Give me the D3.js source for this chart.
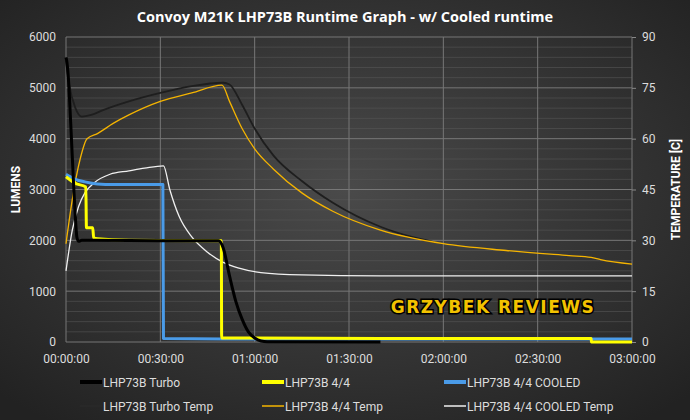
<!DOCTYPE html><html><head><meta charset="utf-8">
<script src="https://cdn.jsdelivr.net/npm/d3@7"></script>
<style>body{margin:0;background:#333}svg{display:block}</style></head><body>
<svg id="c" width="690" height="420"></svg>
<script>
const title="Convoy M21K LHP73B Runtime Graph - w/ Cooled runtime";
const xTicks=[0,30,60,90,120,150,180];
const lumTicks=[0,1000,2000,3000,4000,5000,6000];
const tempTicks=[0,15,30,45,60,75,90];
// [minutes, lumens]
const turbo=[[0,5600],[0.3,5500],[0.8,5150],[1.5,4300],[2.5,3000],[3.5,2050],[4,1980],[5,2000],[10,2000],[30,1990],[48.5,1990],[50,1850],[52,1300],[54,800],[56,450],[58,200],[60,80],[62,20],[64,5],[100,0]];
const q44=[[0,3250],[3,3120],[6.3,3050],[6.5,2250],[8.5,2250],[8.8,2050],[10,2030],[20,2000],[49.4,1990],[49.5,80],[100,70],[150,70],[167,70],[167.1,0],[180,0]];
const cooled=[[0,3300],[3,3200],[6,3150],[10,3110],[15,3100],[30.8,3100],[31,70],[60,60],[180,60]];
// [minutes, °C]
const turboT=[[0,83],[1,76],[3,69],[5,66.5],[8,67],[12,68.5],[20,71],[30,73.5],[40,75.5],[50,76.5],[52,76],[56,70],[60,63],[66,55],[75,47.5],[85,41],[100,34],[110,31],[117,29.5]];
const q44T=[[0,29],[2,42],[4.5,54],[6.7,60],[10,61.5],[15,64.5],[20,67],[30,71],[40,73.5],[49.6,75.8],[52,71],[56,63],[60,57],[66,51],[75,44],[85,38.5],[100,33],[120,29],[140,27],[160,25.5],[167,25],[170,24.3],[180,23]];
const cooledT=[[0,21],[2,33],[4,40],[6,44],[9,47],[14,49.5],[20,50.5],[25,51.3],[31,52],[33,45],[36,37],[40,31],[45,26.5],[50,23.5],[55,21.8],[62,20.5],[75,19.8],[100,19.5],[180,19.5]];
const legendItems=[["LHP73B Turbo","#000",4],["LHP73B 4/4","#ffff00",4],["LHP73B 4/4 COOLED","#4a9be8",4],["LHP73B Turbo Temp","#2a2a2a",1.5],["LHP73B 4/4 Temp","#f5b400",1.5],["LHP73B 4/4 COOLED Temp","#f0f0f0",1.5]];

const svg=d3.select("#c");
const defs=svg.append("defs");
const g=defs.append("radialGradient").attr("id","bg").attr("cx","50%").attr("cy","45%").attr("r","70%");
g.append("stop").attr("offset","0%").attr("stop-color","#4a4a4a");
g.append("stop").attr("offset","100%").attr("stop-color","#222");
svg.append("rect").attr("width",690).attr("height",420).attr("fill","url(#bg)");
const L=66,R=632,T=37,B=342;
const x=d3.scaleLinear().domain([0,180]).range([L,R]);
const y=d3.scaleLinear().domain([0,6000]).range([B,T]);
const y2=d3.scaleLinear().domain([0,90]).range([B,T]);
const fmt=m=>{const h=Math.floor(m/60),mm=m%60;return String(h).padStart(2,"0")+":"+String(mm).padStart(2,"0")+":00";};
svg.append("g").selectAll("line").data(d3.range(200,6000,200).filter(v=>v%1000)).join("line")
 .attr("x1",L).attr("x2",R).attr("y1",d=>y(d)).attr("y2",d=>y(d)).attr("stroke","#555").attr("stroke-width",0.6);
svg.append("g").selectAll("line").data(lumTicks).join("line")
 .attr("x1",L).attr("x2",R).attr("y1",d=>y(d)).attr("y2",d=>y(d)).attr("stroke","#777").attr("stroke-width",1);
svg.append("g").selectAll("line").data(xTicks).join("line")
 .attr("x1",d=>x(d)).attr("x2",d=>x(d)).attr("y1",T).attr("y2",B).attr("stroke","#777").attr("stroke-width",1);
const ax=svg.append("g").attr("transform",`translate(0,${B})`).call(d3.axisBottom(x).tickValues(xTicks).tickFormat(fmt).tickSize(0).tickPadding(12));
const axl=svg.append("g").attr("transform",`translate(${L},0)`).call(d3.axisLeft(y).tickValues(lumTicks).tickFormat(d3.format("d")).tickSize(0).tickPadding(10));
const axr=svg.append("g").attr("transform",`translate(${R},0)`).call(d3.axisRight(y2).tickValues(tempTicks).tickSize(4).tickPadding(6));
[ax,axl,axr].forEach(a=>{a.select(".domain").remove();a.selectAll("text").attr("fill","#ddd").style("font-family","Roboto, sans-serif").style("font-size","12px");a.selectAll("line").attr("stroke","#888");});
const line=(ys)=>d3.line().x(d=>x(d[0])).y(d=>ys(d[1])).curve(d3.curveMonotoneX);
const draw=(data,ys,c,w)=>svg.append("path").datum(data).attr("d",line(ys)).attr("fill","none").attr("stroke",c).attr("stroke-width",w).attr("stroke-linejoin","round");
draw(turboT,y2,"#1e1e1e",1.8);
draw(q44T,y2,"#f5b400",1.3);
draw(cooledT,y2,"#f0f0f0",1.3);
draw(cooled,y,"#4a9be8",3);
draw(q44,y,"#ffff00",3);
draw(turbo,y,"#000",3);
svg.append("text").attr("x",345).attr("y",22).attr("text-anchor","middle").attr("fill","#fff").style("font-family","Open Sans, sans-serif").style("font-weight","bold").style("font-size","14.5px").text(title);
svg.append("text").attr("transform",`translate(20,${(T+B)/2}) rotate(-90)`).attr("text-anchor","middle").attr("fill","#fff").style("font-family","Roboto, sans-serif").style("font-weight","bold").style("font-size","12px").text("LUMENS");
svg.append("text").attr("transform",`translate(680,${(T+B)/2}) rotate(-90)`).attr("text-anchor","middle").attr("fill","#fff").style("font-family","Roboto, sans-serif").style("font-weight","bold").style("font-size","12px").text("TEMPERATURE [C]");
svg.append("text").attr("x",493).attr("y",313).attr("text-anchor","middle").attr("fill","#f2c200").attr("stroke","#000").attr("stroke-width",3).attr("paint-order","stroke").style("font-family","DejaVu Sans, sans-serif").style("font-weight","bold").style("font-size","17px").style("letter-spacing","1.5px").text("GRZYBEK REVIEWS");
const lg=svg.append("g");
legendItems.forEach((d,i)=>{const col=i%3,row=Math.floor(i/3);const lx=80+col*182,ly=382+row*24;
 lg.append("line").attr("x1",lx).attr("x2",lx+22).attr("y1",ly).attr("y2",ly).attr("stroke",d[1]).attr("stroke-width",d[2]);
 lg.append("text").attr("x",lx+23).attr("y",ly+4.5).attr("fill","#ddd").style("font-family","Roboto, sans-serif").style("font-size","12px").text(d[0]);});
</script></body></html>
